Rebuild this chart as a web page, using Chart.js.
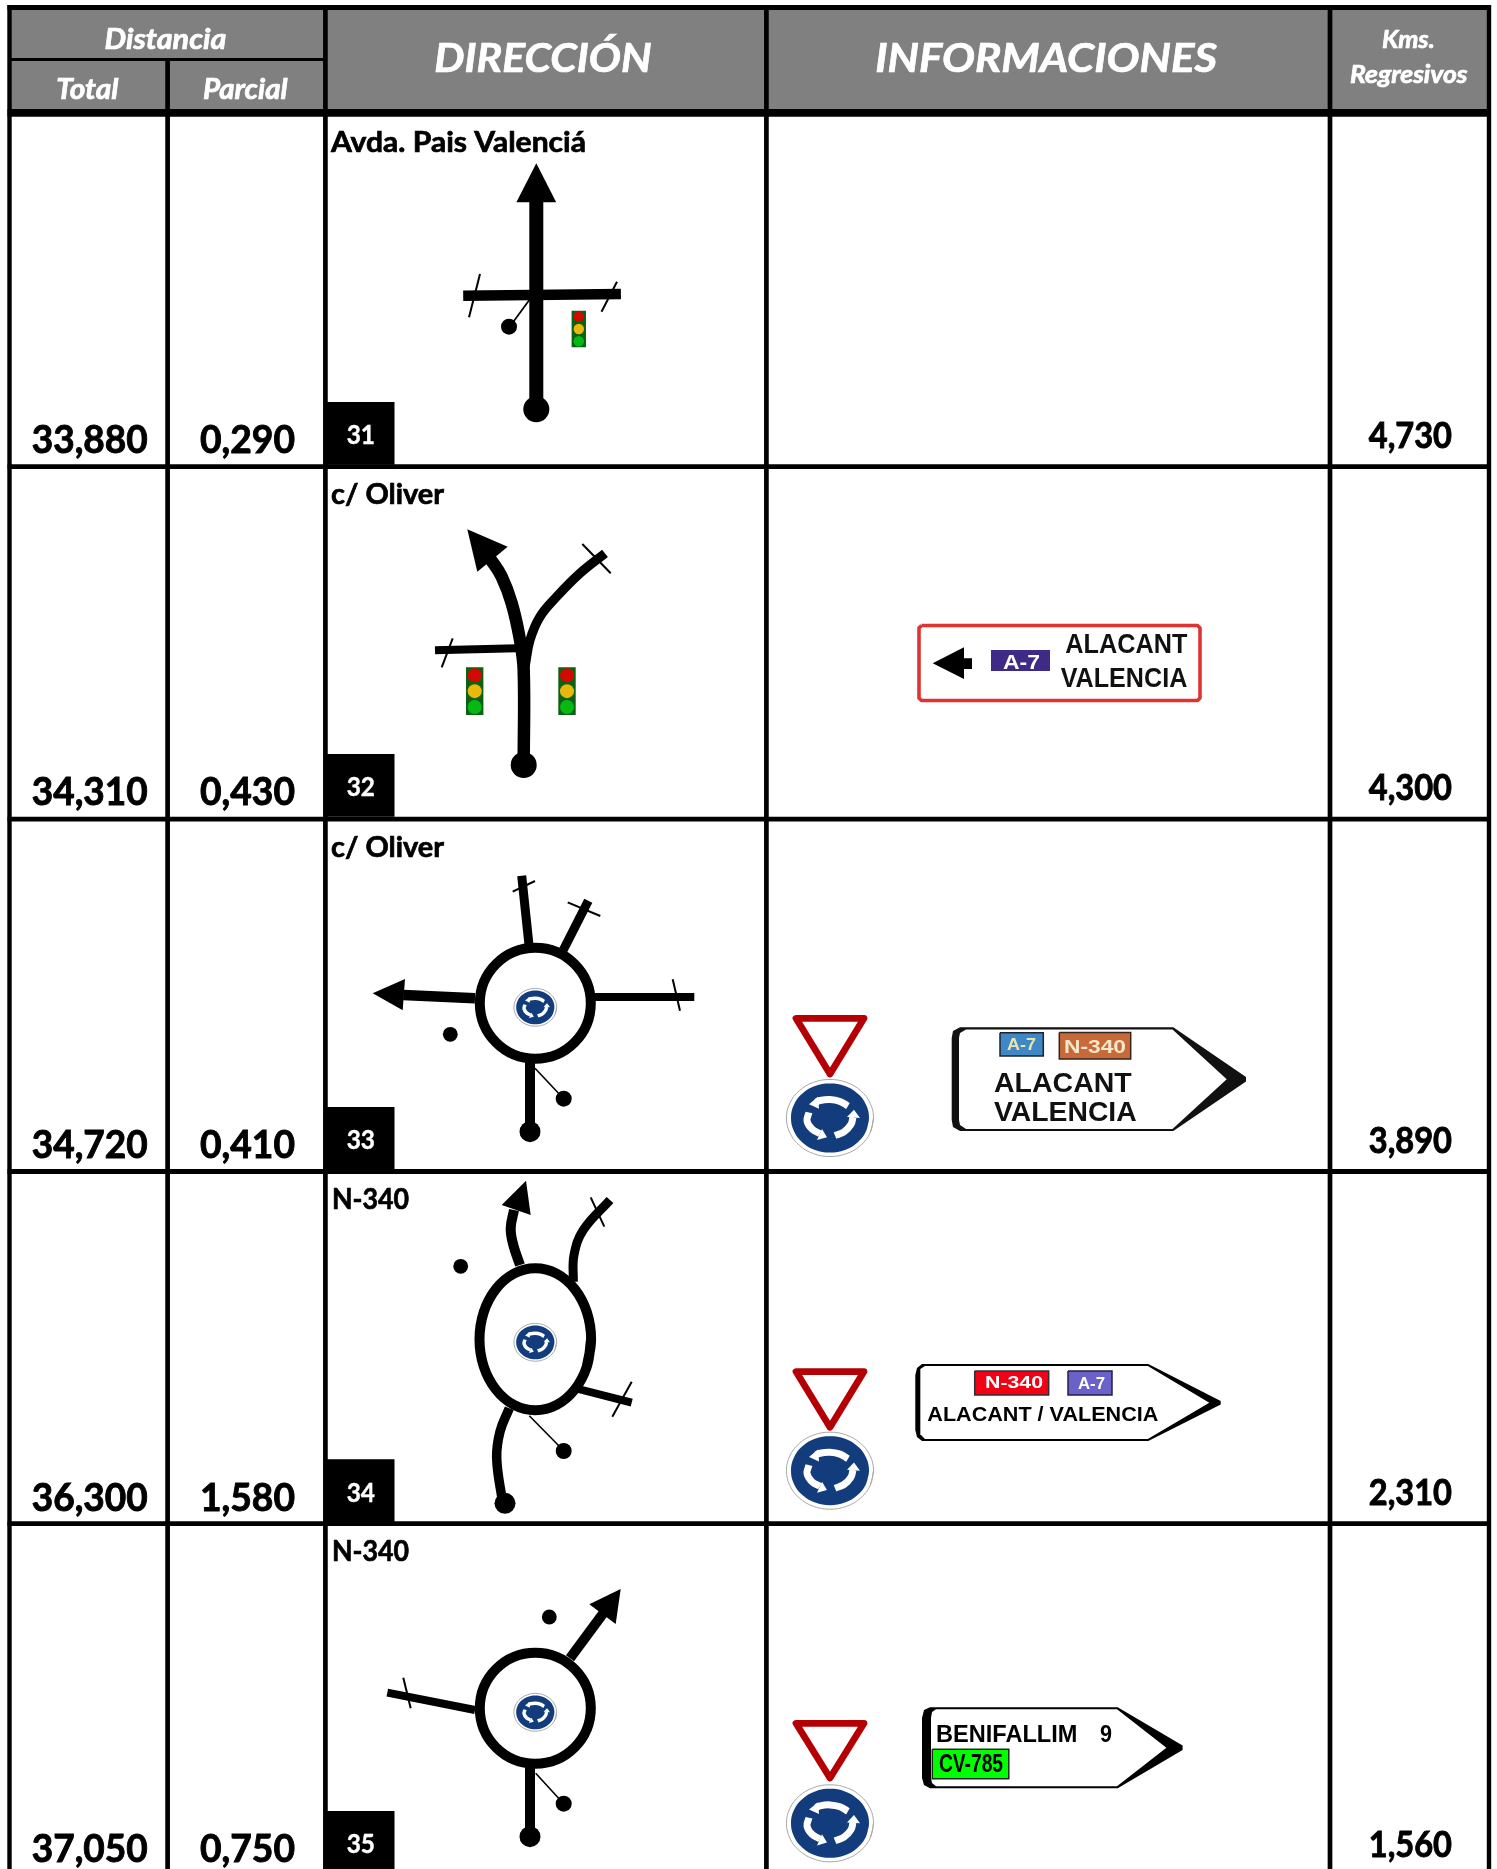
<!DOCTYPE html>
<html lang="es">
<head>
<meta charset="utf-8">
<title>Distancia / Dirección / Informaciones</title>
<script src="https://cdn.jsdelivr.net/npm/chart.js@4/dist/chart.umd.min.js"></script>
<style>
  html, body { margin: 0; padding: 0; background: #fff; }
  canvas { display: block; }
</style>
</head>
<body>
<canvas id="roadbook" width="1497" height="1869"></canvas>
<script>
// table values
const totals = ["33,880", "34,310", "34,720", "36,300", "37,050"];
const partials = ["0,290", "0,430", "0,410", "1,580", "0,750"];
const regressive = ["4,730", "4,300", "3,890", "2,310", "1,560"];
const waypoints = ["31", "32", "33", "34", "35"];
const directions = ["Avda. Pais Valenciá", "c/ Oliver", "c/ Oliver", "N-340", "N-340"];
const directionSpans = [[331, 586], [331, 444], [331, 444], [332, 409], [332, 409]];

// grid, in page units
const columnLines = [9.5, 167.6, 325.4, 766.4, 1330, 1489];
const rowTops = [116.7, 468.7, 821.7, 1174, 1525.7];
const rowLines = [466.7, 819.2, 1171.5, 1523.7];

// road pictograms, one small list per stroke
const r31Main = [[536.3, 410], [536.3, 200]];
const r31Head = [[536.3, 163.3], [556.2, 202.3], [516.4, 202.3]];
const r31Cross = [[463.2, 295.8], [620.9, 294]];
const r31Ticks = [[[480, 274], [469, 317.3]], [[617, 281.7], [601.5, 311.7]]];
const r31Ped = [[529.3, 300], [511, 325]];

const r32Main = [[523.7, 765], [523.7, 670], [520, 640], [511.7, 603.3], [501.7, 576.7], [490, 558.3]];
const r32Head = [[467.3, 529.3], [507.7, 546.7], [477.3, 571.7]];
const r32Right = [[525, 666.7], [530, 640], [540, 616.7], [556.7, 596.7], [580, 573.3], [605, 553.3]];
const r32Left = [[435, 650.3], [516.7, 648.3]];
const r32Ticks = [[[452.7, 638.3], [441.7, 667.3]], [[582.3, 544], [610.7, 573.3]]];

const r33Left = [[475, 998.3], [403.3, 995]];
const r33Head = [[372.7, 993.3], [405, 979], [402.7, 1010.3]];
const r33Top = [[529, 945], [521.7, 875.7]];
const r33Upper = [[563.3, 950], [588.3, 900.7]];
const r33Right = [[595, 997], [694.3, 997]];
const r33Bottom = [[530, 1061.7], [530, 1131.7]];
const r33Ped = [[535, 1068.3], [563, 1098]];
const r33Ticks = [[[512.7, 891.7], [535, 881]], [[567.7, 902.3], [600.3, 916]], [[672.7, 979.3], [680, 1010.7]]];

const r34Up = [[520, 1265], [513.3, 1245], [510.7, 1228.3], [514, 1210]];
const r34Head = [[526, 1180.7], [530.7, 1215], [501.7, 1205]];
const r34UpRight = [[573.3, 1281.7], [574, 1255], [583.3, 1230], [610, 1200]];
const r34LowRight = [[578.3, 1389], [631.7, 1402.7]];
const r34LowLeft = [[509.3, 1408.3], [500, 1431.7], [496.7, 1458.3], [502.7, 1503.3]];
const r34Ped = [[529.3, 1415.7], [563, 1450]];
const r34Ticks = [[[590.7, 1197.3], [604.3, 1226.7]], [[631.7, 1381.7], [612.3, 1416.7]]];

const r35Upper = [[570, 1658.3], [603.3, 1613.3]];
const r35Head = [[620.7, 1589], [615.7, 1624], [589.3, 1604.3]];
const r35Left = [[475, 1710], [387.3, 1692.7]];
const r35Bottom = [[530, 1766.7], [530, 1836.7]];
const r35Ped = [[535.7, 1773.3], [563, 1803]];
const r35Ticks = [[[403.3, 1677.7], [410.7, 1708.3]]];

// stops: x, y
const largeDots = [[536.3, 409.3], [523.7, 765]];
const endDots = [[530, 1131.7], [505, 1503.3], [530, 1836.7]];
const pedDots = [[509, 326.7], [563.7, 1098.7], [563.7, 1451], [563.7, 1803.7]];
const freeDots = [[450.3, 1034.3], [460.7, 1266.3], [549.3, 1617]];
const rings = [[535.3, 1003.3], [535.3, 1708.3]];
const ovalRing = [535.3, 1339.3];
const smallSigns = [[535.3, 1007.3], [535.3, 1342.3], [535.3, 1712.3]];
const largeSigns = [[830, 1118], [830, 1470.7], [830, 1823.3]];
const yieldTops = [1015, 1368.3, 1720];

// traffic lights: left x, top y
const trafficSmall = [[571.6, 310.7]];
const trafficLarge = [[466, 667.3], [558.3, 667.3]];

// round icon outline and arrows
const unitCircle = [[1, 0], [.924, .383], [.707, .707], [.383, .924], [0, 1], [-.383, .924], [-.707, .707], [-.924, .383], [-1, 0], [-.924, -.383], [-.707, -.707], [-.383, -.924], [0, -1], [.383, -.924], [.707, -.707], [.924, -.383], [1, 0], [.924, .383]];
const arrowArcs = [
  [[18, -13], [10, -18], [0, -20], [-10, -19], [-14, -17]],
  [[5, 19], [14, 15], [21, 7], [23, -1]],
  [[-21, -6], [-23, 3], [-18, 12], [-10, 17]]
];
const arrowHeads = [
  [[-21, -15], [-12, -23], [-11, -10]],
  [[24, -9], [17, -1], [30, 0]],
  [[-3, 21], [-13, 24], [-8, 12]]
];

// direction panels
const panelA = [[921.5, 625.5], [1197.5, 625.5], [1200, 628], [1200, 698], [1197.5, 700.5], [921.5, 700.5], [919, 698], [919, 628], [921.5, 625.5]];
const panelAArrow = [[932.7, 663.3], [964, 647.3], [964, 658.3], [972, 658.3], [972, 669], [964, 669], [964, 679]];
const panelBOuter = [[960, 1027.3], [1173.3, 1027.3], [1246, 1077], [1246, 1081.5], [1173.3, 1131], [960, 1131], [953, 1127], [951.7, 1120], [951.7, 1038], [953, 1031]];
const panelBInner = [[966, 1029.5], [1172.5, 1029.5], [1226.7, 1079.3], [1172.5, 1129], [966, 1129], [960, 1125], [959, 1120], [959, 1038], [960, 1033]];
const panelCOuter = [[922, 1364], [1148.3, 1364], [1220.7, 1401], [1220.7, 1404.5], [1148.3, 1441], [922, 1441], [917, 1437], [915.3, 1430], [915.3, 1375], [917, 1368]];
const panelCInner = [[925, 1366], [1147.8, 1366], [1209.3, 1402.7], [1147.8, 1439], [925, 1439], [921, 1435], [920, 1430], [920, 1375], [921, 1369]];
const panelDOuter = [[930, 1707.3], [1117.7, 1707.3], [1182.6, 1745.5], [1182.6, 1750], [1117.7, 1788.3], [930, 1788.3], [924, 1785], [922, 1778], [922, 1718], [924, 1710]];
const panelDInner = [[936, 1709.3], [1117, 1709.3], [1166.4, 1747.7], [1117, 1786.3], [936, 1786.3], [932, 1783], [931, 1778], [931, 1718], [932, 1712]];

const ds = [];
const toXY = pts => pts.map(p => ({ x: p[0], y: p[1] }));

function stroke(pts, width, color = "#000", extra = {}) {
  ds.push({ data: toXY(pts), showLine: true, borderColor: color, borderWidth: width, pointRadius: 0, tension: pts.length > 2 ? 0.4 : 0, borderCapStyle: "butt", fill: false, ...extra });
}
function shape(pts, color, extra = {}) {
  ds.push({ data: toXY(pts), showLine: true, borderColor: color, borderWidth: 0, backgroundColor: color, fill: "shape", pointRadius: 0, tension: 0, ...extra });
}
function dots(pts, r, color = "#000") {
  ds.push({ data: toXY(pts), showLine: false, pointRadius: r, pointBackgroundColor: color, pointBorderWidth: 0 });
}
function box(x0, y0, x1, y1, fill, border) {
  shape([[x0, y0], [x1, y0], [x1, y1], [x0, y1], [x0, y0]], fill, border ? { borderColor: border, borderWidth: 1.5 } : {});
}
function ellipse(cx, cy, rx, ry) {
  return unitCircle.map(p => [cx + p[0] * rx, cy + p[1] * ry]);
}
function roundIcon(cx, cy, k) {
  shape(ellipse(cx, cy, 43.5 * k, 38.5 * k), "#fff", { tension: 0.4, borderColor: "#a8a8a8", borderWidth: 1 });
  shape(ellipse(cx, cy, 39 * k, 34.5 * k), "#123c7c", { tension: 0.4 });
  const move = p => [cx + p[0] * k, cy + p[1] * k * 0.92];
  arrowArcs.forEach(a => stroke(a.map(move), 7 * k, "#fff"));
  arrowHeads.forEach(a => shape(a.map(move), "#fff"));
}
function trafficLight(x, y, w, h, r) {
  box(x, y, x + w, y + h, "#0b6212");
  const cx = x + w / 2, step = h / 3;
  dots([[cx, y + step * 0.5]], r, "#d00a00");
  dots([[cx, y + step * 1.5]], r, "#e8b90c");
  dots([[cx, y + step * 2.5]], r, "#06b814");
}

// header and grid
box(10, 10, 1488, 110, "#808080");
stroke([[7.5, 7.5], [1491, 7.5]], 5);
stroke([[8, 59.6], [325, 59.6]], 3);
stroke([[7.5, 112.9], [1491, 112.9]], 7.6);
rowLines.forEach(y => stroke([[7.5, y], [1491, y]], 4.8));
columnLines.forEach((x, i) => stroke([[x, i === 1 ? 59 : 5], [x, 1869]], i === 0 || i === 5 ? 4.4 : 4.7));

// waypoint number blocks
rowTops.forEach(top => box(327, top + 285.3, 394.5, Math.min(top + 348, 1869), "#000"));

// pictograms
stroke(r31Main, 14); shape(r31Head, "#000"); stroke(r31Cross, 10.5);
r31Ticks.forEach(t => stroke(t, 2)); stroke(r31Ped, 1.8);

stroke(r32Right, 9.3); stroke(r32Left, 8); stroke(r32Main, 12.5); shape(r32Head, "#000");
r32Ticks.forEach(t => stroke(t, 2));

stroke(r33Left, 10.5); shape(r33Head, "#000"); stroke(r33Top, 9); stroke(r33Upper, 9);
stroke(r33Right, 8); stroke(r33Bottom, 10); stroke(r33Ped, 1.6);
r33Ticks.forEach(t => stroke(t, 2));

stroke(r34Up, 10); shape(r34Head, "#000"); stroke(r34UpRight, 9); stroke(r34LowRight, 8);
stroke(r34LowLeft, 9.5); stroke(r34Ped, 1.6);
r34Ticks.forEach(t => stroke(t, 2));

stroke(r35Upper, 10); shape(r35Head, "#000"); stroke(r35Left, 8); stroke(r35Bottom, 10); stroke(r35Ped, 1.6);
r35Ticks.forEach(t => stroke(t, 2));

dots(largeDots, 13);
dots(endDots, 10.5);
dots(pedDots, 8);
dots(freeDots, 7.4);

ds.push({ data: toXY(rings), showLine: false, pointRadius: 55.5, pointBackgroundColor: "#fff", pointBorderColor: "#000", pointBorderWidth: 10 });
shape(ellipse(ovalRing[0], ovalRing[1], 55.8, 71), "#fff", { tension: 0.4, borderColor: "#000", borderWidth: 10, borderCapStyle: "round" });
smallSigns.forEach(s => roundIcon(s[0], s[1], 0.49));

trafficSmall.forEach(t => trafficLight(t[0], t[1], 14.4, 36.6, 5.2));
trafficLarge.forEach(t => trafficLight(t[0], t[1], 17.4, 47.7, 7));

// yield + roundabout signs
yieldTops.forEach((top, i) => {
  const h = i === 2 ? 58 : 59;
  stroke([[796, top + 3.3], [864, top + 3.3], [830, top + h], [796, top + 3.3], [864, top + 3.3]], 6.8, "#b40005", { tension: 0, borderJoinStyle: "round" });
  roundIcon(largeSigns[i][0], largeSigns[i][1], 1);
});

// panels
stroke(panelA, 3.6, "#df3331", { tension: 0, borderJoinStyle: "round" });
shape(panelAArrow, "#000");
box(991, 650, 1050, 671, "#3f2a85");

shape(panelBOuter, "#111"); shape(panelBInner, "#fff");
box(1000, 1032.7, 1043.3, 1056, "#3f88c5", "#1a2430");
box(1059.3, 1032.5, 1130.7, 1059, "#c8693a", "#30251f");

shape(panelCOuter, "#000"); shape(panelCInner, "#fff");
box(974.7, 1371, 1048.7, 1395, "#f20013", "#30303a");
box(1068, 1371, 1112, 1395, "#6a62c8", "#20204a");

shape(panelDOuter, "#000"); shape(panelDInner, "#fff");
box(932.3, 1749.3, 1008.8, 1778.7, "#00ff00", "#1c2c1c");

ds.reverse(); // chart.js paints the first dataset last

// text: str, left, right, baseline, size, colour, font prefix, family, extra weight
const LATO = "Lato, 'Noto Sans', sans-serif";
const ARIAL = "'Liberation Sans', Arial, sans-serif";
const labels = [];
const text = (s, l, r, b, size, color = "#000", style = "bold", family = LATO, heavy = 0) => labels.push({ s, l, r, b, size, color, style, family, heavy });
const head = (s, l, r, b, size) => text(s, l, r, b, size, "#fff", "italic bold", LATO, 0.7);

head("Distancia", 104.5, 226.4, 49, 29);
head("Total", 56.2, 118.4, 99, 29);
head("Parcial", 203, 287.6, 99, 29);
head("DIRECCIÓN", 434.3, 651.7, 71.7, 40);
head("INFORMACIONES", 875.2, 1217, 71.7, 40);
head("Kms.", 1382, 1434.7, 48.3, 24);
head("Regresivos", 1350, 1467.6, 82.7, 24);

rowTops.forEach((top, i) => {
  text(totals[i], 31.7, 147.7, top + 336.6, 38, "#000", "bold", LATO, 0.9);
  text(partials[i], 200, 295, top + 336.6, 38, "#000", "bold", LATO, 0.9);
  text(regressive[i], 1368.8, 1452, top + 331, 36, "#000", "bold", LATO, 0.9);
  text(waypoints[i], 346.7, 375, top + 327.5, 26, "#fff", "bold", LATO, 0.4);
  text(directions[i], directionSpans[i][0], directionSpans[i][1], top + 35, 29, "#000", "bold", LATO, 0.7);
});

text("A-7", 1003, 1040, 669.3, 20, "#fff", "bold", ARIAL);
text("ALACANT", 1065.3, 1187.3, 653.3, 28, "#111", "bold", ARIAL);
text("VALENCIA", 1060.7, 1187.3, 687.3, 28, "#111", "bold", ARIAL);

text("A-7", 1007, 1036, 1050, 17, "#e8e4b0", "bold", ARIAL);
text("N-340", 1064, 1126, 1052.5, 19, "#f4e8c8", "bold", ARIAL);
text("ALACANT", 994, 1131.7, 1091.7, 28, "#111", "bold", ARIAL);
text("VALENCIA", 994, 1136.7, 1120.7, 27, "#111", "bold", ARIAL);

text("N-340", 985, 1043, 1388, 17, "#fff", "bold", ARIAL);
text("A-7", 1078, 1105, 1389, 16, "#fff", "bold", ARIAL);
text("ALACANT / VALENCIA", 927.3, 1158.3, 1420.7, 20, "#000", "bold", ARIAL);

text("BENIFALLIM", 936, 1077.4, 1742.3, 23, "#000", "bold", ARIAL);
text("9", 1100, 1112, 1742.3, 23, "#000", "bold", ARIAL);
text("CV-785", 939, 1003, 1772.3, 25, "#000", "bold", ARIAL);

const textPlugin = {
  id: "pageText",
  afterDatasetsDraw(chart) {
    const { ctx, scales: { x, y } } = chart;
    labels.forEach(t => {
      const left = x.getPixelForValue(t.l), right = x.getPixelForValue(t.r);
      ctx.save();
      ctx.font = `${t.style} ${t.size}px ${t.family}`;
      ctx.fillStyle = t.color;
      ctx.strokeStyle = t.color;
      ctx.textAlign = "center";
      ctx.textBaseline = "alphabetic";
      // squeeze the type to the width
      const k = (right - left) / ctx.measureText(t.s).width;
      ctx.translate((left + right) / 2, y.getPixelForValue(t.b));
      ctx.scale(k, 1);
      ctx.fillText(t.s, 0, 0);
      if (t.heavy) {
        ctx.lineWidth = t.heavy;
        ctx.strokeText(t.s, 0, 0);
      }
      ctx.restore();
    });
  }
};

new Chart(document.getElementById("roadbook"), {
  type: "scatter",
  data: { datasets: ds },
  options: {
    responsive: false,
    animation: false,
    layout: { padding: 0, autoPadding: false },
    plugins: { legend: { display: false }, tooltip: { enabled: false } },
    events: [],
    scales: {
      x: { type: "linear", min: 0, max: 1497, display: false },
      y: { type: "linear", min: 0, max: 1869, reverse: true, display: false }
    }
  },
  plugins: [textPlugin]
});
</script>
</body>
</html>
